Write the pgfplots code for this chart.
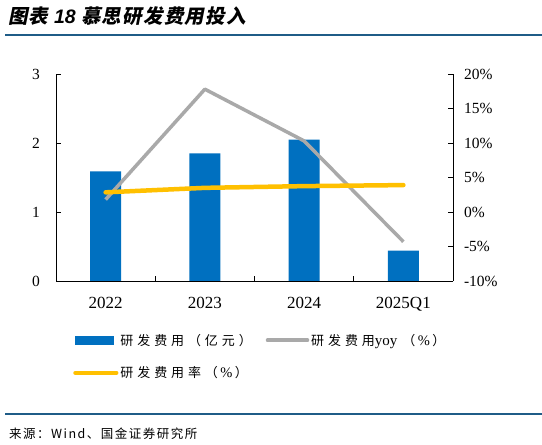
\documentclass[border=0pt]{standalone}
\usepackage{pgfplots}
\pgfplotsset{compat=1.18}
\usepackage{fontspec}
\setmainfont{Liberation Serif}
\newfontfamily\cjk{Noto Sans CJK SC}
\newfontfamily\cjkleg{Noto Sans CJK SC}[LetterSpace=30]
\newfontfamily\cjksrc{Noto Sans CJK SC}[LetterSpace=12]
\newfontfamily\cjktitle{Noto Sans CJK SC}[FakeSlant=0.2, LetterSpace=6]
\newfontfamily\sanslat{Liberation Sans}

\definecolor{barblue}{HTML}{0070C0}
\definecolor{yoygray}{HTML}{A9A9A9}
\definecolor{rategold}{HTML}{FFC000}
\definecolor{rulecol}{HTML}{1F5C87}

\begin{document}
\begin{tikzpicture}
\useasboundingbox (0bp,0bp) rectangle (542bp,445bp);
\fill[white] (0bp,0bp) rectangle (542bp,445bp);

% title and rules
\node[anchor=west, inner sep=0pt] at (8bp,429bp)
  {\cjktitle\bfseries\fontsize{19.5bp}{22bp}\selectfont 图表 {\sanslat\bfseries\itshape 18} 慕思研发费用投入};
\draw[rulecol, line width=1.6bp] (5bp,410bp) -- (542bp,410bp);
\draw[rulecol, line width=1.2bp] (5bp,31bp) -- (542bp,31bp);
\node[anchor=west, inner sep=0pt] at (9bp,11.5bp)
  {\cjksrc\fontsize{12.5bp}{14bp}\selectfont 来源：Wind、国金证券研究所};

% left axis: R&D expense (100m yuan)
\begin{axis}[
  at={(56bp,164bp)}, anchor=south west,
  scale only axis, width=397bp, height=207bp,
  xmin=-0.5, xmax=3.5, ymin=0, ymax=3,
  axis x line*=bottom, axis y line*=left,
  x axis line style={-}, y axis line style={-},
  axis line style={black, line width=0.8bp},
  tick style={black, line width=0.8bp},
  tick align=inside, major tick length=5bp,
  xtick={-0.5,0.5,1.5,2.5,3.5}, x tick label as interval,
  xticklabels={2022,2023,2024,2025Q1},
  ytick={0,1,2,3},
  /pgf/number format/assume math mode=true,
  yticklabel style={font=\fontsize{15.5bp}{17bp}\selectfont, xshift=-12.5bp},
  xticklabel style={font=\fontsize{17bp}{19bp}\selectfont, yshift=-13bp},
  clip=false,
]
\addplot[ybar, bar width=31bp, fill=barblue, draw=none]
  coordinates {(0,1.59) (1,1.85) (2,2.05) (3,0.44)};
\end{axis}

% right axis: yoy and ratio (%)
\begin{axis}[
  at={(56bp,164bp)}, anchor=south west,
  scale only axis, width=397bp, height=207bp,
  xmin=-0.5, xmax=3.5, ymin=-10, ymax=20,
  axis x line=none, axis y line*=right,
  y axis line style={-},
  axis line style={black, line width=0.8bp},
  tick style={black, line width=0.8bp},
  tick align=inside, major tick length=5bp,
  ytick={-10,-5,0,5,10,15,20},
  yticklabel={\pgfmathprintnumber{\tick}\%},
  /pgf/number format/assume math mode=true,
  yticklabel style={font=\fontsize{15.5bp}{17bp}\selectfont, xshift=7.5bp},
  clip=false,
  legend columns=2,
  legend cell align=left,
  legend style={
    at={(0.043,-0.245)}, anchor=north west,
    draw=none, fill=none, inner sep=0pt,
    font=\cjkleg\fontsize{13bp}{15bp}\selectfont,
    row sep=16bp,
    /tikz/every even column/.append style={column sep=12bp},
  },
]
\addlegendimage{legend image code/.code={\fill[barblue] (0bp,-3.8bp) rectangle (38bp,3.8bp);}}
\addlegendentry{研发费用（亿元）}
\addplot[yoygray, line width=3.5bp, line join=round,
  legend image code/.code={\draw[yoygray, line width=3.5bp, line cap=round] (0bp,0bp) -- (40bp,0bp);}]
  coordinates {(0,1.8) (1,17.8) (2,10.3) (3,-4.3)};
\addlegendentry{研发费用{\rmfamily\fontsize{15bp}{15bp}\selectfont yoy}\hspace{5bp}（{\rmfamily\fontsize{14.5bp}{15bp}\selectfont\,\%\,}）}
\addplot[rategold, line width=4.5bp, line cap=round,
  legend image code/.code={\draw[rategold, line width=4.2bp, line cap=round] (0bp,0bp) -- (41bp,0bp);}]
  coordinates {(0,2.85) (1,3.5) (2,3.75) (3,3.9)};
\addlegendentry{研发费用率（{\rmfamily\fontsize{14.5bp}{15bp}\selectfont\,\%\,}）}
\end{axis}
\end{tikzpicture}
\end{document}
